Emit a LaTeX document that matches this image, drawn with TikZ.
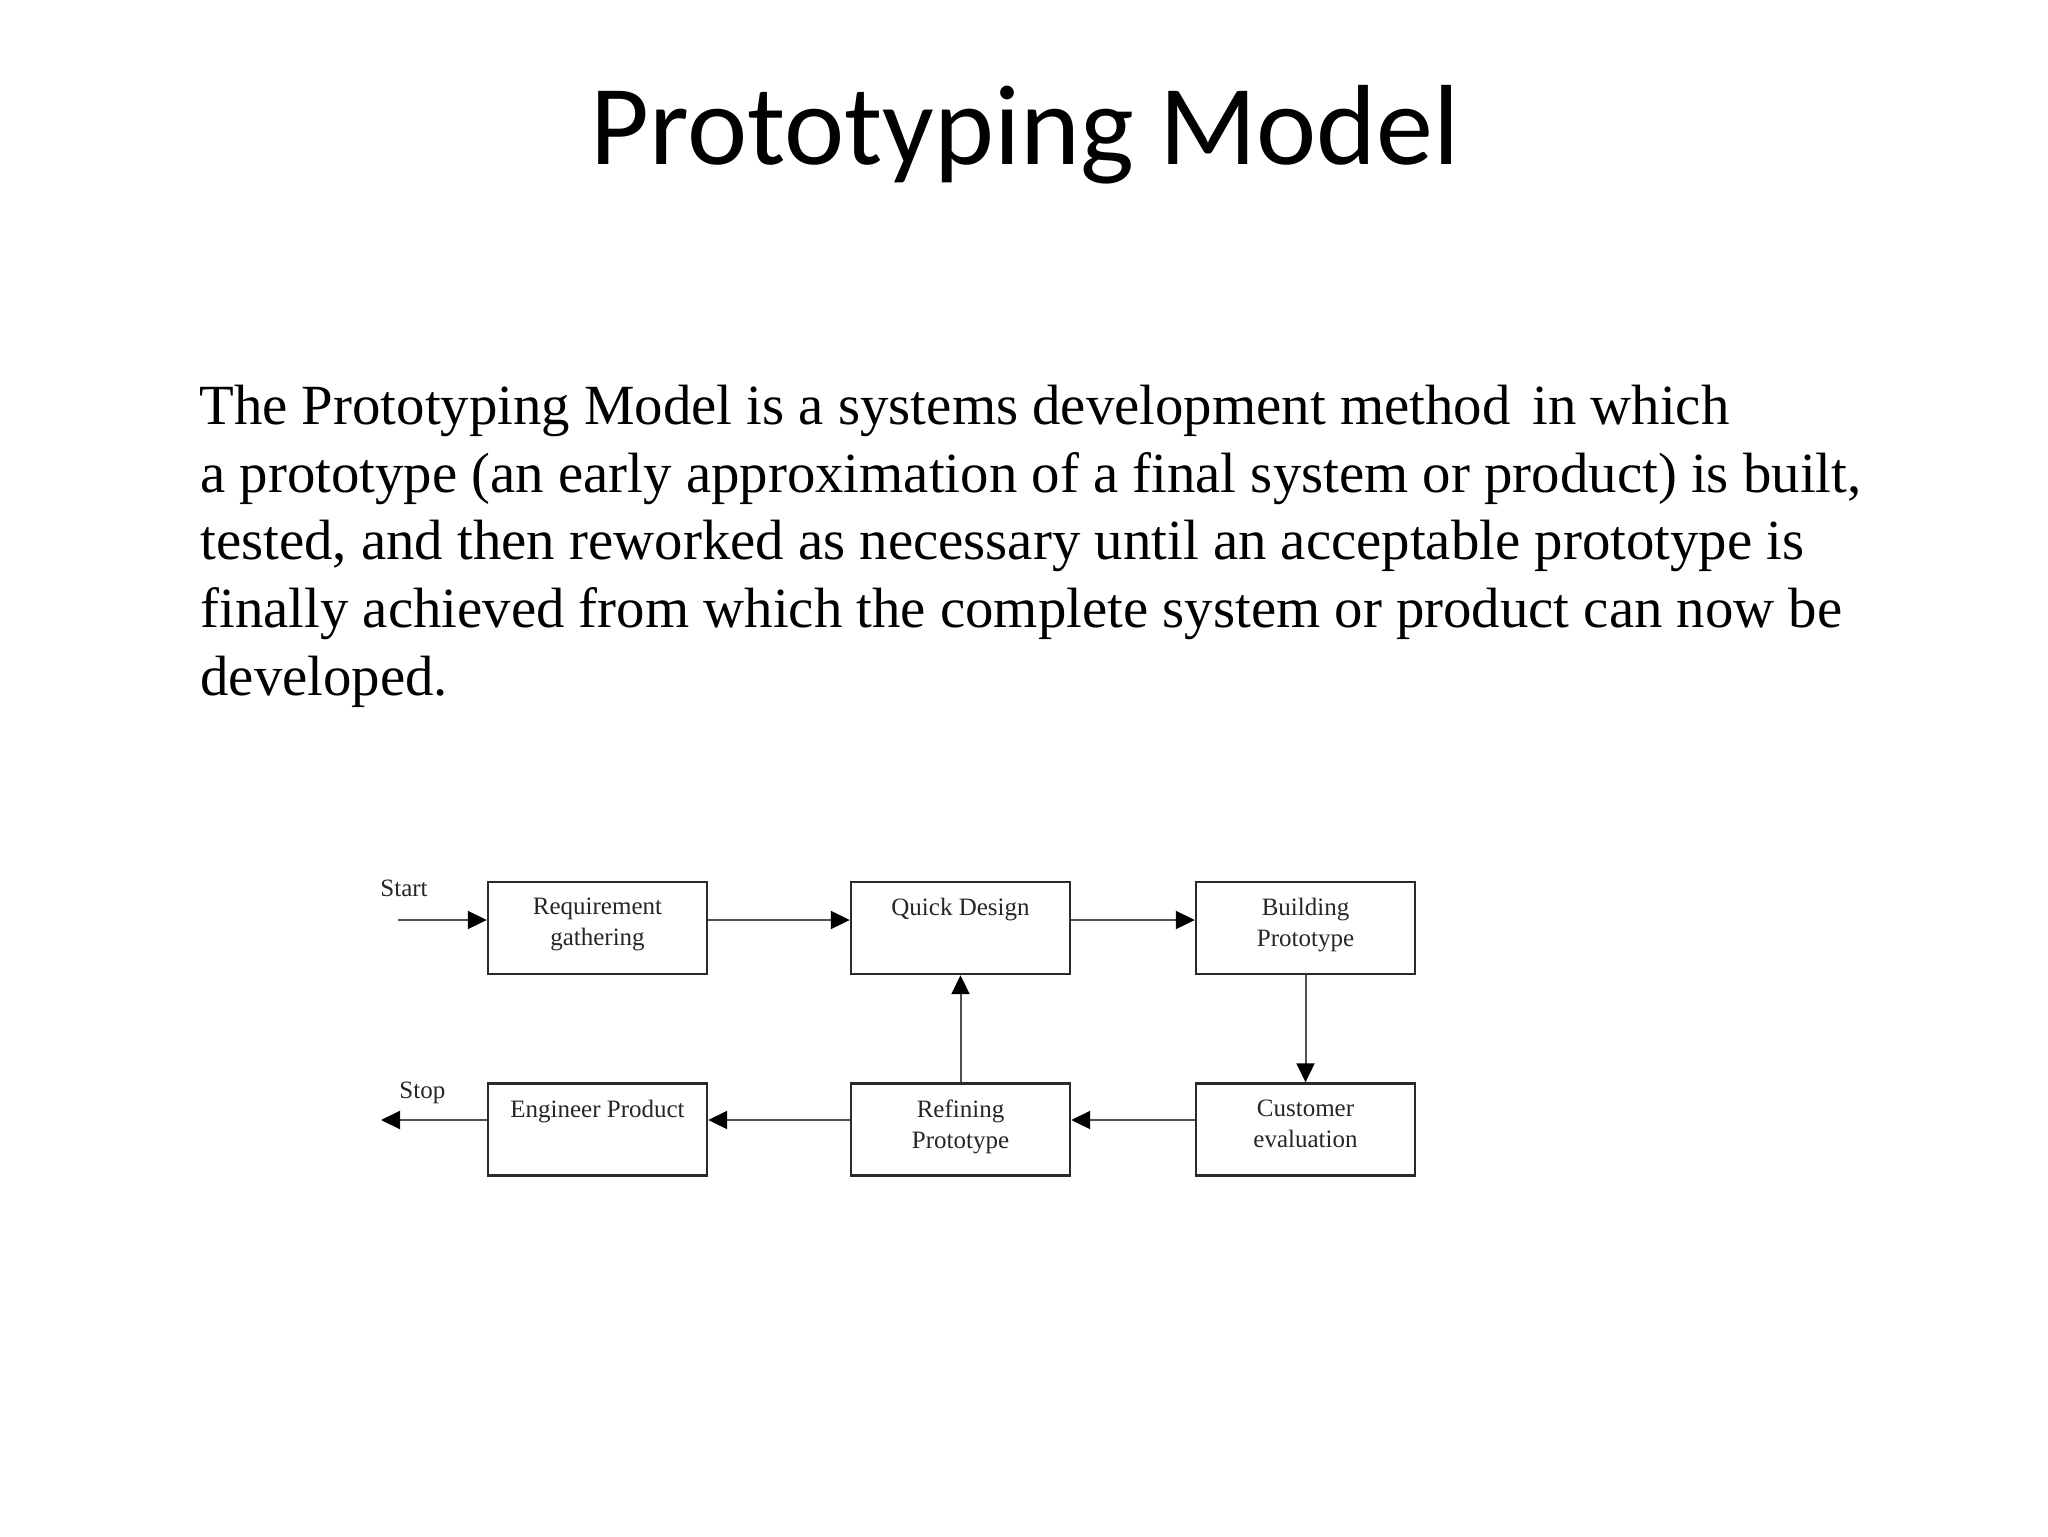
\documentclass[tikz,border=0pt]{standalone}
\usepackage{fontspec}
\setmainfont{Liberation Serif}
\newfontfamily\titlefont{Carlito}
\usetikzlibrary{arrows.meta}
\definecolor{boxline}{HTML}{2A2A2A}
\definecolor{arrline}{HTML}{505050}
\definecolor{lbl}{HTML}{262626}
\tikzset{
  pbox/.style={draw=boxline, line width=1.2pt, minimum width=109.5pt, minimum height=46pt, inner sep=0pt},
  boxtext/.style={anchor=north, inner sep=0pt, align=center, text=lbl, font=\fontsize{12.5}{15.5}\selectfont},
  lbltext/.style={anchor=base west, inner sep=0pt, text=lbl, font=\fontsize{12.5}{15.5}\selectfont},
  arr/.style={draw=arrline, line width=1pt, -{Triangle[length=9.5pt,width=9pt,color=black]}},
  bodyline/.style={anchor=base west, inner sep=0pt, font=\fontsize{28.4}{34}\selectfont},
}
\begin{document}
\begin{tikzpicture}[x=0.5pt, y=-0.5pt]
\useasboundingbox[fill=white] (0,0) rectangle (2048,1536);
% title
\node[anchor=base, inner sep=0pt, font=\titlefont\fontsize{57}{68}\selectfont] (title) at (1025,164) {Prototyping Model};
% body text
\node[bodyline] (l1) at (199,424) {The Prototyping Model is a systems development method\hspace{3.8pt} in which};
\node[bodyline] (l2) at (200,492) {a prototype (an early approximation of a final system or product) is built,};
\node[bodyline] (l3) at (200,559) {tested, and then reworked as necessary until an acceptable prototype is};
\node[bodyline] (l4) at (200,627) {finally achieved from which the complete system or product can now be};
\node[bodyline] (l5) at (200,695) {developed.};
% boxes
\node[pbox] (rg) at (597.5,928) {};
\node[pbox] (qd) at (960.5,928) {};
\node[pbox] (bp) at (1305.5,928) {};
\node[pbox] (ep) at (597.5,1129.5) {};
\node[pbox] (rp) at (960.5,1129.5) {};
\node[pbox] (ce) at (1305.5,1129.5) {};
% box texts
\node[boxtext] (rgt) at ([yshift=-8.5pt]rg.north) {Requirement\\gathering};
\node[boxtext] (qdt) at ([yshift=-8.5pt]qd.north) {Quick Design};
\node[boxtext] (bpt) at ([yshift=-8.5pt]bp.north) {Building\\Prototype};
\node[boxtext] (ept) at ([yshift=-8.5pt]ep.north) {Engineer Product};
\node[boxtext] (rpt) at ([yshift=-8.5pt]rp.north) {Refining\\Prototype};
\node[boxtext] (cet) at ([yshift=-8.5pt]ce.north) {Customer\\evaluation};
% start / stop
\node[lbltext] (startl) at (380,896) {Start};
\node[lbltext] (stopl) at (399,1098) {Stop};
\coordinate (start) at (398,920);
\coordinate (stop) at (381,1120);
% connectors
\draw[arr] (start) -- (start -| rg.west);
\draw[arr] ([yshift=4pt]rg.east) -- ([yshift=4pt]qd.west);
\draw[arr] ([yshift=4pt]qd.east) -- ([yshift=4pt]bp.west);
\draw[arr] (bp.south) -- (ce.north);
\draw[arr] ([yshift=4.75pt]ce.west) -- ([yshift=4.75pt]rp.east);
\draw[arr] ([yshift=4.75pt]rp.west) -- ([yshift=4.75pt]ep.east);
\draw[arr] ([yshift=4.75pt]ep.west) -- (stop);
\draw[arr] (rp.north) -- (qd.south);
\end{tikzpicture}
\end{document}
